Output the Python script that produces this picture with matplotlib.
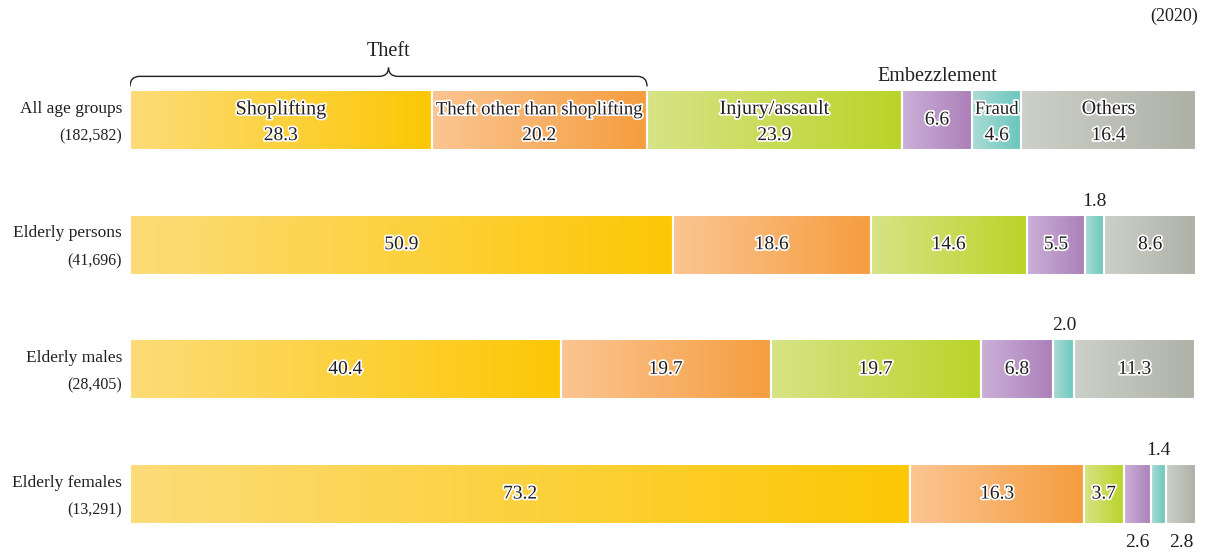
import matplotlib.pyplot as plt
import matplotlib.patches as patches
import matplotlib.patheffects as pe
from matplotlib.colors import LinearSegmentedColormap
from matplotlib.path import Path
import numpy as np

plt.rcParams['font.family'] = ['Liberation Serif', 'DejaVu Serif']

groups = ["All age groups", "Elderly persons", "Elderly males", "Elderly females"]
counts = ["(182,582)", "(41,696)", "(28,405)", "(13,291)"]
categories = ["Shoplifting", "Theft other than shoplifting", "Injury/assault",
              "Embezzlement", "Fraud", "Others"]
shares = [
    [28.3, 20.2, 23.9, 6.6, 4.6, 16.4],
    [50.9, 18.6, 14.6, 5.5, 1.8, 8.6],
    [40.4, 19.7, 19.7, 6.8, 2.0, 11.3],
    [73.2, 16.3, 3.7, 2.6, 1.4, 2.8],
]
year = "(2020)"

# light -> saturated gradient for each category
grad_colors = [
    ("#fcdc78", "#fdc705"),
    ("#fbc592", "#f59d3e"),
    ("#d7e386", "#bad428"),
    ("#cbb0d8", "#ab7fb9"),
    ("#abdcd6", "#68c6bc"),
    ("#cdd0c8", "#adb1a6"),
]
txt_color = "#231f20"

fig = plt.figure(figsize=(12.07, 5.55), dpi=100)
ax = fig.add_axes([130 / 1207, 0, 1066 / 1207, 1])
ax.axis('off')

bar_h = 0.48
halo = [pe.withStroke(linewidth=2.5, foreground='white')]

for i, row in enumerate(shares):
    left = 0
    for j, v in enumerate(row):
        cmap = LinearSegmentedColormap.from_list(f"c{j}", grad_colors[j])
        grad = np.linspace(0, 1, 256).reshape(1, -1)
        ax.imshow(grad, cmap=cmap, aspect='auto', interpolation='bilinear',
                  extent=(left, left + v, i + bar_h / 2, i - bar_h / 2), zorder=1)
        ax.add_patch(patches.Rectangle((left, i - bar_h / 2), v, bar_h,
                                       facecolor='none', edgecolor='white', lw=1.5, zorder=2))
        cx = left + v / 2
        if i == 0:
            if categories[j] == "Embezzlement":
                ax.text(cx, i, f"{v:.1f}", ha='center', va='center', fontsize=14,
                        color=txt_color, path_effects=halo, zorder=3)
                ax.text(cx, i - bar_h / 2 - 0.03, categories[j], ha='center', va='bottom',
                        fontsize=14.5, color=txt_color, zorder=3)
            else:
                fs = 13.5 if len(categories[j]) > 20 else 14.5
                if categories[j] == "Fraud":
                    fs = 13.5
                ax.text(cx, i - 0.085, categories[j], ha='center', va='center', fontsize=fs,
                        color=txt_color, path_effects=halo, zorder=3)
                ax.text(cx, i + 0.125, f"{v:.1f}", ha='center', va='center', fontsize=14,
                        color=txt_color, path_effects=halo, zorder=3)
        elif v >= 3:
            ax.text(cx, i, f"{v:.1f}", ha='center', va='center', fontsize=14,
                    color=txt_color, path_effects=halo, zorder=3)
        elif categories[j] == "Fraud":
            ax.text(cx, i - bar_h / 2 - 0.11, f"{v:.1f}", ha='center', va='center',
                    fontsize=14, color=txt_color, zorder=3)
        else:
            ax.text(cx, i + bar_h / 2 + 0.15, f"{v:.1f}", ha='center', va='center',
                    fontsize=14, color=txt_color, zorder=3)
        left += v

    ax.text(-0.75, i - 0.09, groups[i], ha='right', va='center', fontsize=12.5, color=txt_color)
    ax.text(-0.75, i + 0.13, counts[i], ha='right', va='center', fontsize=11.5, color=txt_color)

# brace over the two theft categories
theft_end = shares[0][0] + shares[0][1]
mid = theft_end / 2
y0, y1, y2 = -0.27, -0.35, -0.42
d = 0.9
verts = [(0, y0), (0, y1), (d, y1),
         (mid - d, y1), (mid, y1), (mid, y2),
         (mid, y1), (mid + d, y1),
         (theft_end - d, y1), (theft_end, y1), (theft_end, y0)]
codes = [Path.MOVETO, Path.CURVE3, Path.CURVE3,
         Path.LINETO, Path.CURVE3, Path.CURVE3,
         Path.CURVE3, Path.CURVE3,
         Path.LINETO, Path.CURVE3, Path.CURVE3]
ax.add_patch(patches.PathPatch(Path(verts, codes), facecolor='none',
                               edgecolor=txt_color, lw=1.0, zorder=3))
ax.text(mid, -0.55, "Theft", ha='center', va='center', fontsize=14.5, color=txt_color)

ax.text(100.2, -0.83, year, ha='right', va='center', fontsize=13, color=txt_color)

ax.set_xlim(0, 100)
ax.set_ylim(3.489, -0.9626)

plt.savefig("out.png", dpi=100)
plt.close()
